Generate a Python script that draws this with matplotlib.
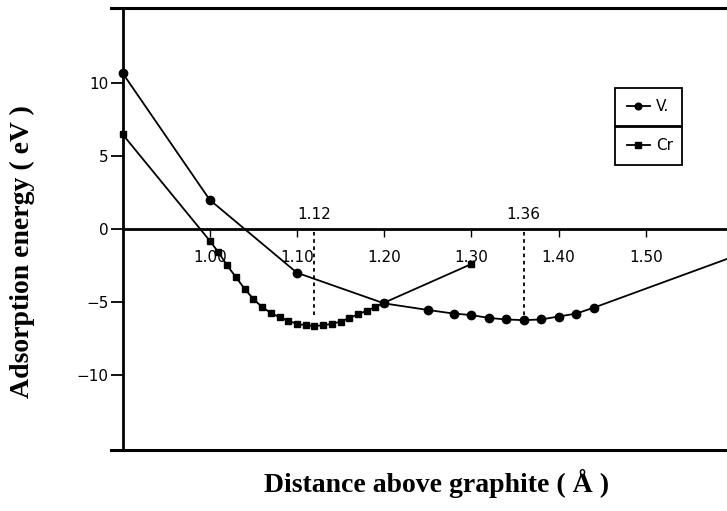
import matplotlib
matplotlib.use('Agg')
import matplotlib.pyplot as plt

# V. adsorption curve
v_x = [0.90, 1.00, 1.10, 1.20, 1.25, 1.28, 1.30, 1.32, 1.34, 1.36, 1.38, 1.40, 1.42, 1.44, 1.60]
v_y = [10.7, 2.0, -3.0, -5.1, -5.55, -5.8, -5.9, -6.1, -6.2, -6.25, -6.2, -6.0, -5.8, -5.4, -1.9]

# Cr adsorption curve
cr_x = [0.90, 1.00, 1.01, 1.02, 1.03, 1.04, 1.05, 1.06, 1.07, 1.08, 1.09, 1.10,
        1.11, 1.12, 1.13, 1.14, 1.15, 1.16, 1.17, 1.18, 1.19, 1.20, 1.30]
cr_y = [6.5, -0.8, -1.6, -2.5, -3.3, -4.1, -4.8, -5.35, -5.75, -6.05, -6.3, -6.5,
        -6.6, -6.65, -6.6, -6.5, -6.35, -6.1, -5.85, -5.6, -5.35, -5.05, -2.4]

# marked minima
min_x = [1.12, 1.36]
min_labels = ['1.12', '1.36']
min_depth = -5.9

x_ticks = [1.00, 1.10, 1.20, 1.30, 1.40, 1.50]
x_ticklabels = ['1.00', '1.10', '1.20', '1.30', '1.40', '1.50']
y_ticks = [-10, -5, 0, 5, 10]

fig = plt.figure(figsize=(7.27, 5.11), dpi=100)
ax = fig.add_axes([122.5 / 727, 61 / 511, 1 - 122.5 / 727, 442 / 511])

(h_v,) = ax.plot(v_x, v_y, '-o', color='black', lw=1.3, ms=6, clip_on=False)
(h_cr,) = ax.plot(cr_x, cr_y, '-s', color='black', lw=1.3, ms=5, clip_on=False)

ax.vlines(min_x, min_depth, 0, colors='black', linestyles=(0, (2, 2)), lw=1.3)
for x, lab in zip(min_x, min_labels):
    ax.annotate(lab, xy=(x, 0), xytext=(0, 5), textcoords='offset points',
                ha='center', va='bottom', fontsize=11)

ax.set_xlim(0.90, 1.593)
ax.set_ylim(-15.15, 15.15)

# zero line carries the x ticks
ax.spines['bottom'].set_position(('data', 0))
ax.spines['bottom'].set_linewidth(2)
ax.spines['left'].set_linewidth(2)
ax.spines['top'].set_visible(False)
ax.spines['right'].set_visible(False)

# frame lines top and bottom, sticking out a bit to the left
for yy in (0, 1):
    ax.plot([-0.019, 1.0], [yy, yy], transform=ax.transAxes, color='black',
            lw=2.2, clip_on=False)

ax.set_xticks(x_ticks)
ax.set_xticklabels(x_ticklabels)
ax.set_yticks(y_ticks)
ax.tick_params(axis='x', direction='out', length=6, width=1, pad=9, labelsize=11)
ax.tick_params(axis='y', direction='out', length=9, width=1.3, pad=1, labelsize=11)

serif = ['Liberation Serif', 'DejaVu Serif']
ax.set_xlabel('Distance above graphite ( Å )', fontsize=20, fontweight='bold', family=serif)
ax.xaxis.set_label_coords(0.52, -0.075)
ax.xaxis.label.set_va('center')
ax.set_ylabel('Adsorption energy ( eV )', fontsize=20, fontweight='bold', family=serif,
              va='center')
ax.yaxis.set_label_coords(-0.165, 0.448)

# legend: two stacked boxes of equal width, sharing the middle edge
leg_kw = dict(loc='upper left', mode='expand', borderaxespad=0, fancybox=False,
              framealpha=1, edgecolor='black', fontsize=11, handlelength=1.5,
              handletextpad=0.4, borderpad=0.75, markerscale=0.8)
leg1 = ax.legend([h_v], ['V.'], bbox_to_anchor=(0.815, 0.7285, 0.111, 0.0905), **leg_kw)
leg1.get_frame().set_linewidth(1.3)
ax.add_artist(leg1)
leg2 = ax.legend([h_cr], ['Cr'], bbox_to_anchor=(0.815, 0.638, 0.111, 0.0935), **leg_kw)
leg2.get_frame().set_linewidth(1.3)

fig.savefig('out.png', dpi=100)
plt.close(fig)
